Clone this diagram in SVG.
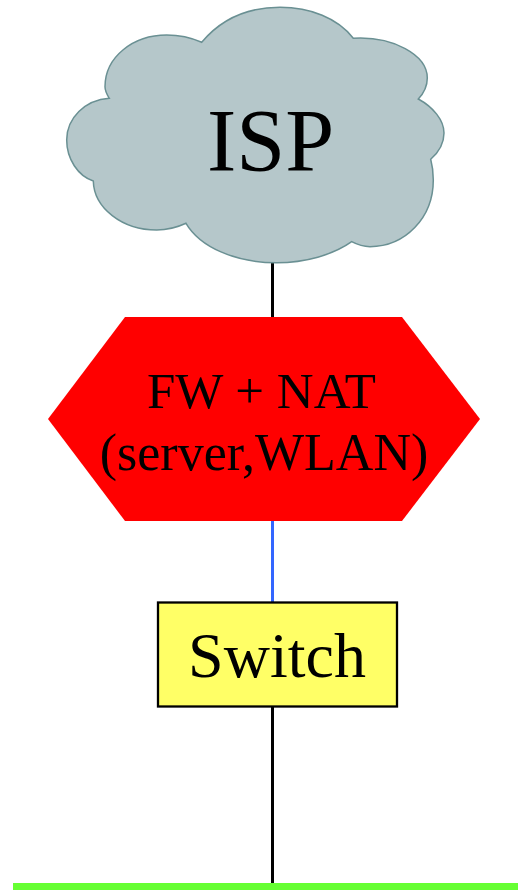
<svg xmlns="http://www.w3.org/2000/svg" width="518" height="890" viewBox="0 0 518 890">
<style>
text{font-family:"Liberation Serif","Times New Roman",serif;fill:#000;text-anchor:middle}
.c{fill:none;stroke-width:3}
</style>
<rect width="518" height="890" fill="#fff"/>
<g id="connectors">
<line class="c" x1="272.500" y1="260" x2="272.500" y2="318" stroke="#000"/>
<line class="c" x1="272.500" y1="520" x2="272.500" y2="603" stroke="#3366ff"/>
<line class="c" x1="272.500" y1="706" x2="272.500" y2="884" stroke="#000"/>
</g>
<g id="isp">
<path d="M201.7 42.300C222 18 250 7.300 280 7.300C310 7.300 338 18 353.300 38.300C393 36 427.300 55 427.300 78C427.300 86 424 93 418.300 99C433 107 444 120 444 133C444 143 439 152 430.700 159.300C432.500 166 433.300 173 433.300 180C433.300 218 405 246.700 370 246.700C363 246.700 357 244.500 351.700 241.700C333 255 305 262.700 276.700 262.700C235 262.700 200 247 186 223.300C177 227.500 167 230 156.700 230C122 230 94 208 93.300 181C78 176 66.700 159 66.700 140C66.700 118 85 100 109.300 98.300C106 93 105 90 105 86.700C105 57 133 35 166.700 35C180 35 192 38 201.700 42.300Z" fill="#b5c7ca" stroke="#6a9093" stroke-width="1.5"/>
<text x="270.500" y="170" font-size="88">ISP</text>
</g>
<g id="fw">
<polygon points="125,317 402,317 480,419 402,521 125,521 48,419" fill="#ff0000"/>
<text x="261.500" y="408" font-size="51">FW + NAT</text>
<text x="264" y="470" font-size="52">(server,WLAN)</text>
</g>
<g id="switch">
<rect x="158" y="602.500" width="239" height="104" fill="#ffff66" stroke="#000" stroke-width="2.300"/>
<text x="277" y="677" font-size="64">Switch</text>
</g>
<g id="bus">
<rect x="13" y="883" width="505" height="7" fill="#66ff33"/>
</g>
</svg>
